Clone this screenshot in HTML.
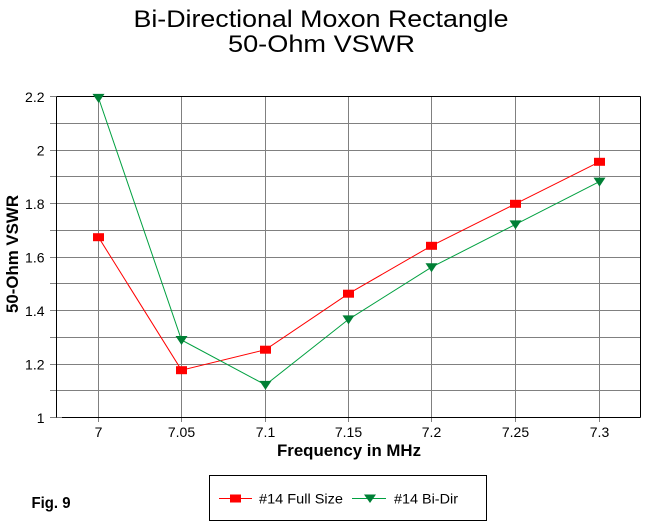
<!DOCTYPE html>
<html>
<head>
<meta charset="utf-8">
<style>
html,body{margin:0;padding:0;background:#fff;}
svg{display:block;}
text{font-family:"Liberation Sans",Arial,sans-serif;fill:#000;}
</style>
</head>
<body>
<svg width="645" height="525" viewBox="0 0 645 525" xmlns="http://www.w3.org/2000/svg">
<rect x="0" y="0" width="645" height="525" fill="#fff"/>

<!-- Title -->
<text x="321" y="27" font-size="24" text-anchor="middle" textLength="375" lengthAdjust="spacingAndGlyphs">Bi-Directional Moxon Rectangle</text>
<text x="321.5" y="52" font-size="24" text-anchor="middle" textLength="187" lengthAdjust="spacingAndGlyphs">50-Ohm VSWR</text>

<!-- Grid -->
<g stroke="#808080" stroke-width="1" shape-rendering="crispEdges">
  <!-- horizontal gridlines + left ticks -->
  <line x1="50" y1="96.5" x2="56" y2="96.5"/>
  <line x1="50" y1="123.5" x2="640" y2="123.5"/>
  <line x1="50" y1="150.5" x2="640" y2="150.5"/>
  <line x1="50" y1="176.5" x2="640" y2="176.5"/>
  <line x1="50" y1="203.5" x2="640" y2="203.5"/>
  <line x1="50" y1="230.5" x2="640" y2="230.5"/>
  <line x1="50" y1="257.5" x2="640" y2="257.5"/>
  <line x1="50" y1="283.5" x2="640" y2="283.5"/>
  <line x1="50" y1="310.5" x2="640" y2="310.5"/>
  <line x1="50" y1="337.5" x2="640" y2="337.5"/>
  <line x1="50" y1="364.5" x2="640" y2="364.5"/>
  <line x1="50" y1="390.5" x2="640" y2="390.5"/>
  <line x1="50" y1="417.5" x2="62" y2="417.5"/>
  <!-- vertical gridlines + bottom ticks -->
  <line x1="98.5" y1="96" x2="98.5" y2="422"/>
  <line x1="181.5" y1="96" x2="181.5" y2="422"/>
  <line x1="265.5" y1="96" x2="265.5" y2="422"/>
  <line x1="348.5" y1="96" x2="348.5" y2="422"/>
  <line x1="431.5" y1="96" x2="431.5" y2="422"/>
  <line x1="515.5" y1="96" x2="515.5" y2="422"/>
  <line x1="599.5" y1="96" x2="599.5" y2="422"/>
</g>

<!-- Plot border -->
<g stroke="#000" stroke-width="1" shape-rendering="crispEdges" fill="none">
  <line x1="56.5" y1="96.5" x2="640.5" y2="96.5"/>
  <line x1="640.5" y1="96.5" x2="640.5" y2="417.5"/>
  <line x1="62" y1="417.5" x2="640.5" y2="417.5"/>
  <line x1="56.5" y1="96.5" x2="56.5" y2="417.5"/>
</g>

<!-- Y tick labels -->
<g font-size="14" text-anchor="end">
  <text x="44.5" y="102">2.2</text>
  <text x="44.5" y="155.5">2</text>
  <text x="44.5" y="209">1.8</text>
  <text x="44.5" y="262.5">1.6</text>
  <text x="44.5" y="316">1.4</text>
  <text x="44.5" y="369.5">1.2</text>
  <text x="44.5" y="423">1</text>
</g>

<!-- X tick labels -->
<g font-size="14" text-anchor="middle">
  <text x="98.5" y="437">7</text>
  <text x="181.5" y="437">7.05</text>
  <text x="265.5" y="437">7.1</text>
  <text x="348.5" y="437">7.15</text>
  <text x="431.5" y="437">7.2</text>
  <text x="515.5" y="437">7.25</text>
  <text x="599.5" y="437">7.3</text>
</g>

<!-- Axis titles -->
<text x="349" y="456" font-size="17" font-weight="bold" text-anchor="middle" textLength="144" lengthAdjust="spacingAndGlyphs">Frequency in MHz</text>
<text transform="translate(18,254) rotate(-90)" font-size="17" font-weight="bold" text-anchor="middle" textLength="118" lengthAdjust="spacingAndGlyphs">50-Ohm VSWR</text>

<!-- Series: Full Size (red) -->
<polyline fill="none" stroke="#ff0000" stroke-width="1"
  points="98.5,237.2 181.5,370.2 265.5,349.7 348.5,293.7 431.5,245.8 515.5,203.8 599.5,161.8"/>
<!-- Series: Bi-Dir (green) -->
<polyline fill="none" stroke="#00a040" stroke-width="1"
  points="98.5,97.9 181.5,340 265.5,384.9 348.5,319.4 431.5,267.2 515.5,224.4 599.5,181.6"/>

<!-- Red markers -->
<g fill="#ff0000">
  <rect x="93" y="233.2" width="11" height="8"/>
  <rect x="176" y="366.2" width="11" height="8"/>
  <rect x="260" y="345.7" width="11" height="8"/>
  <rect x="343" y="289.7" width="11" height="8"/>
  <rect x="426" y="241.8" width="11" height="8"/>
  <rect x="510" y="199.8" width="11" height="8"/>
  <rect x="594" y="157.8" width="11" height="8"/>
</g>

<!-- Green markers (down triangles) -->
<g fill="#007f35">
  <polygon points="92.5,93.9 104.5,93.9 98.5,102.9"/>
  <polygon points="175.5,336 187.5,336 181.5,345"/>
  <polygon points="259.5,380.9 271.5,380.9 265.5,389.9"/>
  <polygon points="342.5,315.4 354.5,315.4 348.5,324.4"/>
  <polygon points="425.5,263.2 437.5,263.2 431.5,272.2"/>
  <polygon points="509.5,220.4 521.5,220.4 515.5,229.4"/>
  <polygon points="593.5,177.6 605.5,177.6 599.5,186.6"/>
</g>

<!-- Fig. 9 -->
<text x="31.5" y="508" font-size="16" font-weight="bold" textLength="39" lengthAdjust="spacingAndGlyphs">Fig. 9</text>

<!-- Legend -->
<rect x="209.5" y="475.5" width="277" height="45" fill="#fff" stroke="#000" stroke-width="1" shape-rendering="crispEdges"/>
<line x1="219" y1="498.5" x2="252" y2="498.5" stroke="#ff0000" stroke-width="1"/>
<rect x="230" y="494.5" width="11" height="8" fill="#ff0000"/>
<text x="259" y="503.5" font-size="14" textLength="84" lengthAdjust="spacingAndGlyphs">#14 Full Size</text>
<line x1="352" y1="498.5" x2="386" y2="498.5" stroke="#00a040" stroke-width="1"/>
<polygon points="364,494.5 376,494.5 370,503" fill="#007f35"/>
<text x="394" y="503.5" font-size="14" textLength="64" lengthAdjust="spacingAndGlyphs">#14 Bi-Dir</text>
</svg>
</body>
</html>
